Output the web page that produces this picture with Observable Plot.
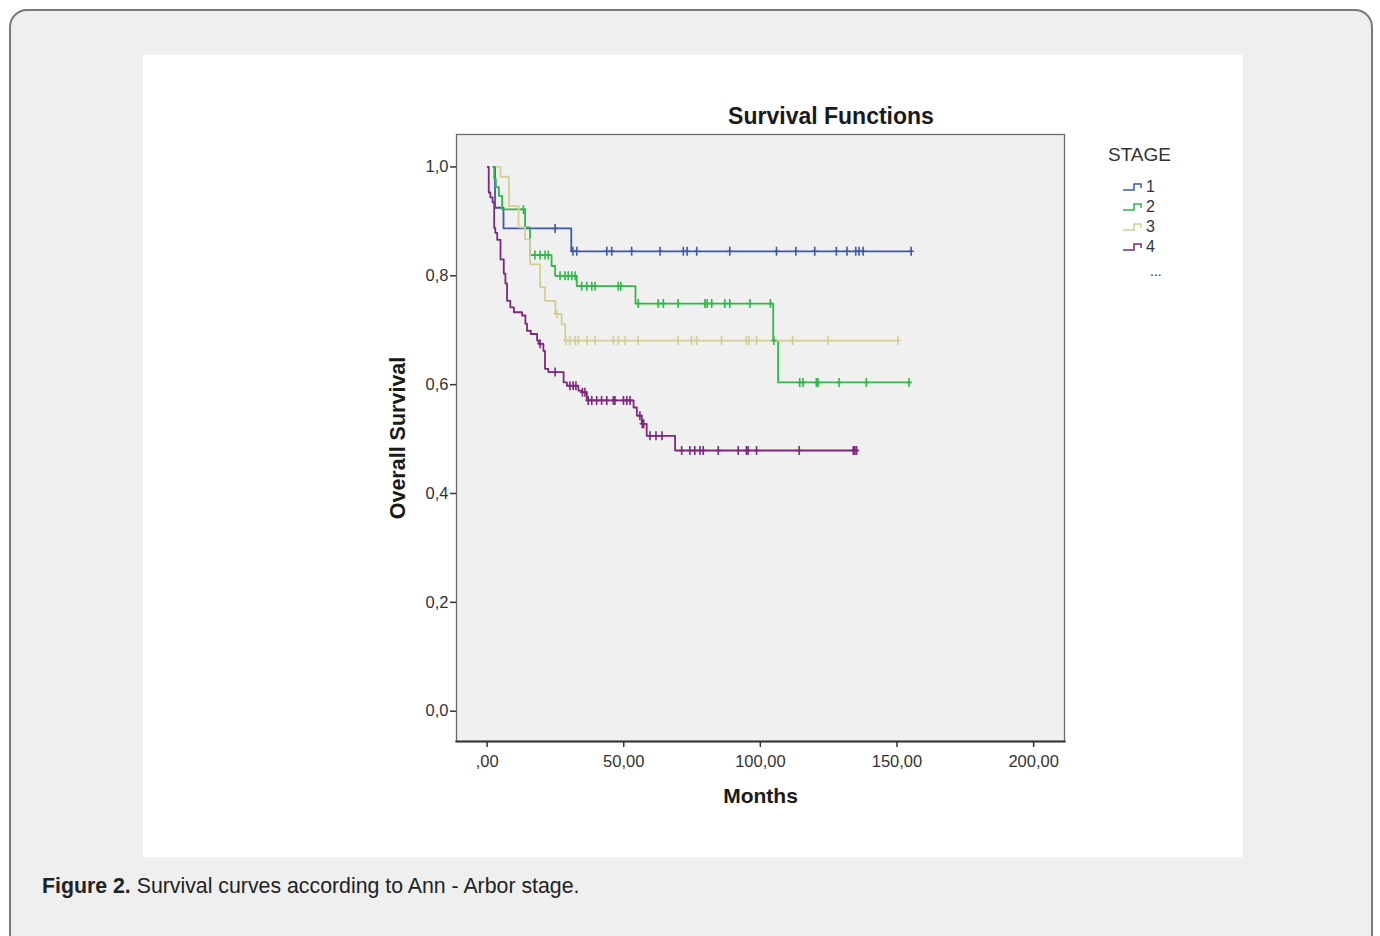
<!DOCTYPE html>
<html>
<head>
<meta charset="utf-8">
<script src="https://cdn.jsdelivr.net/npm/d3@7"></script>
<script src="https://cdn.jsdelivr.net/npm/@observablehq/plot@0.6"></script>
<style>
  html, body { margin: 0; padding: 0; background: #fff; width: 1380px; height: 936px; overflow: hidden; }
  body { font-family: "Liberation Sans", Arial, sans-serif; position: relative; }
  #box { position: absolute; left: 9px; top: 9px; width: 1360px; height: 980px; border: 2px solid #7a7a7a; border-radius: 18px; background: #efefef; }
  #panel { position: absolute; left: 143px; top: 55px; width: 1100px; height: 802px; background: #fff; }
  #panel svg { position: absolute; left: 0; top: 0; }
  #title { position: absolute; left: 488px; width: 400px; top: 48px; text-align: center; font-weight: bold; font-size: 23px; color: #1a1a1a; }
  #legend { position: absolute; left: 965px; top: 89px; color: #333; }
  #legend .head { font-size: 19px; margin-bottom: 11px; }
  #legend .row { display: flex; align-items: center; height: 20px; font-size: 16px; padding-left: 14px; }
  #legend .row svg { position: static; margin-right: 2px; }
  #legend .dots { padding-left: 42px; font-size: 14px; line-height: 12px; margin-top: 8px; }
  #caption { position: absolute; left: 42px; top: 874px; font-size: 21.3px; color: #222; }
</style>
</head>
<body>
<div id="box"></div>
<div id="panel">
  <div id="title">Survival Functions</div>
  <div id="legend"></div>
</div>
<div id="caption"><b>Figure 2.</b> Survival curves according to Ann - Arbor stage.</div>
<script>
// ---- data ----
const stages = ["1", "2", "3", "4"];
const stageColors = ["#3e58ac", "#2eb848", "#d3ce97", "#7c287d"];

const s1Time = [2.3, 2.9, 6.0, 30.8];
const s1Surv = [1.0, 0.925, 0.887, 0.845];
const s1End = 155.2;
const s1Censor = [24.9, 31.4, 32.8, 43.8, 45.6, 52.9, 63.3, 71.8, 73.2, 76.7, 88.8, 105.9, 113.0, 119.9, 127.8, 131.7, 134.9, 136.1, 137.6, 155.2];

const s2Time = [2.3, 2.6, 3.2, 4.3, 5.5, 13.9, 15.7, 23.6, 24.9, 32.8, 54.3, 104.7, 106.5];
const s2Surv = [1.0, 0.978, 0.963, 0.947, 0.922, 0.889, 0.838, 0.818, 0.800, 0.781, 0.749, 0.681, 0.604];
const s2End = 155.0;
const s2Censor = [13.3, 17.5, 19.4, 21.2, 22.4, 26.7, 28.5, 29.7, 31.0, 32.2, 34.6, 36.5, 38.3, 39.5, 48.0, 48.9, 55.3, 62.6, 64.5, 69.9, 79.7, 80.5, 82.2, 87.0, 88.8, 96.2, 103.7, 104.9, 114.4, 115.6, 120.5, 121.1, 128.8, 138.8, 154.4];

const s3Time = [3.5, 4.9, 8.0, 11.5, 13.9, 15.7, 19.4, 21.2, 25.0, 27.3, 28.6];
const s3Surv = [1.0, 0.982, 0.928, 0.889, 0.867, 0.821, 0.779, 0.754, 0.730, 0.711, 0.681];
const s3End = 150.4;
const s3Censor = [25.5, 28.8, 30.3, 32.2, 33.4, 36.5, 39.5, 46.2, 48.0, 50.5, 55.3, 69.9, 74.8, 76.7, 85.8, 94.9, 95.9, 98.6, 111.8, 124.8, 150.4];

const s4Time = [0.2, 0.6, 1.2, 2.0, 2.6, 3.0, 3.7, 4.9, 6.1, 6.7, 7.3, 8.5, 9.8, 12.8, 14.0, 14.6, 16.0, 18.3, 18.9, 20.6, 21.2, 22.4, 28.0, 29.2, 33.4, 34.6, 36.5, 53.6, 54.8, 56.6, 58.4, 68.8];
const s4Surv = [1.0, 0.953, 0.944, 0.935, 0.888, 0.879, 0.866, 0.830, 0.804, 0.786, 0.754, 0.742, 0.733, 0.727, 0.712, 0.699, 0.693, 0.681, 0.675, 0.662, 0.629, 0.623, 0.604, 0.598, 0.589, 0.586, 0.571, 0.558, 0.543, 0.528, 0.506, 0.479];
const s4End = 135.5;
const s4Censor = [19.4, 24.9, 30.3, 31.5, 32.5, 34.9, 35.8, 37.0, 38.3, 40.1, 41.9, 43.8, 46.2, 46.8, 49.9, 51.1, 52.3, 55.9, 56.8, 57.3, 59.6, 61.8, 64.0, 71.2, 74.2, 76.0, 77.9, 79.1, 84.6, 91.9, 94.9, 95.5, 98.6, 114.2, 134.0, 134.6, 135.2];

const xTicks = [0, 50, 100, 150, 200];
const xTickLabels = [",00", "50,00", "100,00", "150,00", "200,00"];
const yTicks = [0, 0.2, 0.4, 0.6, 0.8, 1.0];
const yTickLabels = ["0,0", "0,2", "0,4", "0,6", "0,8", "1,0"];

// ---- build tables ----
const series = [
  {stage: stages[0], time: s1Time, surv: s1Surv, end: s1End, censor: s1Censor},
  {stage: stages[1], time: s2Time, surv: s2Surv, end: s2End, censor: s2Censor},
  {stage: stages[2], time: s3Time, surv: s3Surv, end: s3End, censor: s3Censor},
  {stage: stages[3], time: s4Time, surv: s4Surv, end: s4End, censor: s4Censor}
];
const steps = [];
const censors = [];
for (const s of series) {
  s.time.forEach((t, i) => steps.push({stage: s.stage, t, s: s.surv[i]}));
  steps.push({stage: s.stage, t: s.end, s: s.surv[s.surv.length - 1]});
  for (const c of s.censor) {
    let v = s.surv[0];
    for (let i = 0; i < s.time.length; i++) if (s.time[i] <= c) v = s.surv[i];
    censors.push({stage: s.stage, t: c, s: v});
  }
}

const vTick = {
  draw(context, size) {
    const h = Math.sqrt(size / Math.PI);
    context.moveTo(0, -h);
    context.lineTo(0, h);
    context.moveTo(-h * 0.6, 0);
    context.lineTo(h * 0.6, 0);
  }
};

const chart = Plot.plot({
  width: 1100,
  height: 802,
  marginLeft: 313,
  marginRight: 179,
  marginTop: 79,
  marginBottom: 116,
  style: {fontFamily: "'Liberation Sans', Arial, sans-serif", background: "transparent", color: "#333"},
  x: {domain: [-11.2, 211.3]},
  y: {domain: [-0.0557, 1.0596]},
  color: {domain: stages, range: stageColors},
  marks: [
    Plot.frame({fill: "#f0f0f0", stroke: "#6a6a6a", strokeWidth: 1.3}),
    Plot.frame({anchor: "bottom", stroke: "#333", strokeWidth: 2.2}),
    Plot.axisX({ticks: xTicks, tickFormat: d => xTickLabels[xTicks.indexOf(d)], tickSize: 6, tickPadding: 8, fontSize: 16.5, label: null, stroke: "#333", strokeWidth: 1.5}),
    Plot.axisY({ticks: yTicks, tickFormat: d => yTickLabels[yTicks.findIndex(v => Math.abs(v - d) < 1e-9)], tickSize: 6, tickPadding: 2, fontSize: 16.5, label: null, stroke: "#333", strokeWidth: 1.5}),
    Plot.text(["Months"], {frameAnchor: "bottom", dy: 61, fontSize: 21, fontWeight: "bold", fill: "#1a1a1a"}),
    Plot.text(["Overall Survival"], {frameAnchor: "left", textAnchor: "middle", dx: -58, rotate: -90, fontSize: 21.5, fontWeight: "bold", fill: "#1a1a1a"}),
    Plot.line(steps, {x: "t", y: "s", z: "stage", stroke: "stage", curve: "step-after", strokeWidth: 1.8}),
    Plot.dot(censors, {x: "t", y: "s", stroke: "stage", symbol: vTick, r: 4.5, strokeWidth: 1.6, fill: "none"})
  ]
});
document.getElementById("panel").prepend(chart);

// ---- legend ----
const legend = document.getElementById("legend");
legend.innerHTML = '<div class="head">STAGE</div>';
stages.forEach((s, i) => {
  const row = document.createElement("div");
  row.className = "row";
  row.innerHTML = `<svg width="22" height="12"><path d="M1,9 H12 V3 H19 V7" fill="none" stroke="${stageColors[i]}" stroke-width="1.5"/></svg><span>${s}</span>`;
  legend.appendChild(row);
});
const dots = document.createElement("div");
dots.className = "dots";
dots.textContent = "...";
legend.appendChild(dots);
</script>
</body>
</html>
